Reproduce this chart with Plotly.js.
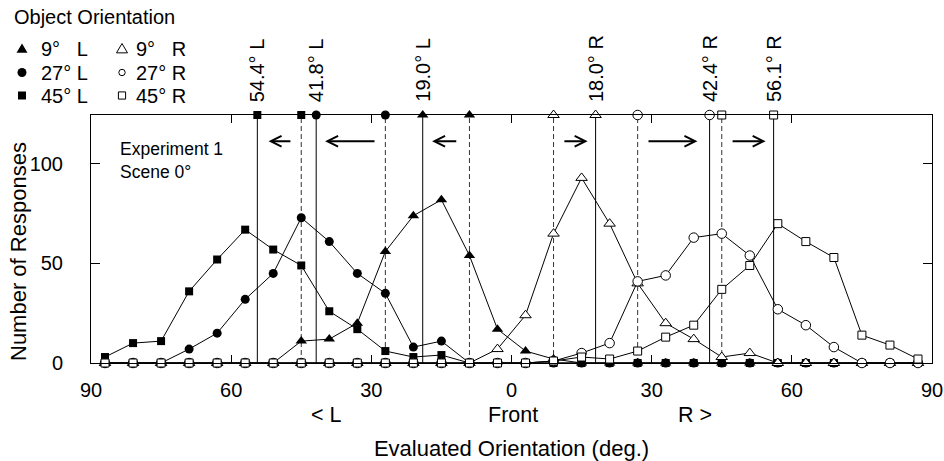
<!DOCTYPE html>
<html>
<head>
<meta charset="utf-8">
<script src="https://cdn.plot.ly/plotly-3.0.1.min.js"></script>
<style>html,body{margin:0;padding:0;background:#fff}#chart{width:944px;height:461px}</style>
</head>
<body>
<div id="chart"></div>
<script>
// ---------- data ----------
const angles = [-87,-81,-75,-69,-63,-57,-51,-45,-39,-33,-27,-21,-15,-9,-3,3,9,15,21,27,33,39,45,51,57,63,69,75,81,87];
const resp9L  = [0,0,0,0,0,0,0,11,12,20,56,74,82,54,17,6,2,0,0,0,0,0,0,0,0,0,0,0,0,0];
const resp27L = [0,0,0,7,15,32,45,73,61,45,35,8,11,0,0,0,0,0,0,0,0,0,0,0,0,0,0,0,0,0];
const resp45L = [3,10,11,36,52,67,57,49,26,17,6,3,4,0,0,0,0,0,0,0,0,0,0,0,0,0,0,0,0,0];
const resp9R  = [0,0,0,0,0,0,0,0,0,0,0,0,0,0,7,24,65,93,70,40,20,12,3,5,0,0,0,0,0,0];
const resp27R = [0,0,0,0,0,0,0,0,0,0,0,0,0,0,0,0,1,5,10,41,44,63,65,54,27,19,8,0,0,0];
const resp45R = [0,0,0,0,0,0,0,0,0,0,0,0,0,0,0,0,1,3,2,6,13,19,37,49,70,61,53,14,9,2];

const seriesNames   = ['9° L','45° L','27° L','9° R','27° R','45° R'];
const actualOrient  = [-9,-45,-27,9,27,45];               // true object orientation (dashed lines)
const meanOrient    = [-19.0,-54.4,-41.8,18.0,42.4,56.1]; // mean evaluated orientation (solid lines)
const meanLabels    = ['19.0° L','54.4° L','41.8° L','18.0° R','42.4° R','56.1° R'];
const arrowFrom     = [-11.5,-47,-29,11,29,47];
const arrowTo       = [-17,-52,-39.9,16.3,39.8,54.4];
const arrowLevel    = 111.4;

const tickVals = [-90,-60,-30,0,30,60,90];
const tickText = ['90','60','30','0','30','60','90'];
const yTickVals = [0,50,100];
const sideLabels = ['&lt; L','Front','R &gt;'];
const sideLabelPos = [-39.5,0.3,39.3];

const legendTitle = 'Object Orientation';
const legendLeft  = ['9°\u00a0\u00a0\u00a0L','27° L','45° L'];
const legendRight = ['9°\u00a0\u00a0\u00a0R','27° R','45° R'];
const noteText = 'Experiment 1<br>Scene 0°';
const xTitle = 'Evaluated Orientation (deg.)';
const yTitle = 'Number of Responses';

// ---------- style / layout ----------
const W = 944, H = 461;
const M = {l:91, r:12, t:115, b:98};
const PW = W - M.l - M.r, PH = H - M.t - M.b;
const px = X => (X - M.l) / PW;          // figure pixel -> paper x
const py = Y => (H - M.b - Y) / PH;      // figure pixel -> paper y
const Y_MAX = 124.6;
const FONT = 'Liberation Sans, Arial, sans-serif';

const values = [resp9L, resp45L, resp27L, resp9R, resp27R, resp45R];
const symbols = ['triangle-up','square','circle','triangle-up','circle','square'];
const filled  = [true,true,true,false,false,false];
const sizes   = [10,8,9,10,9.5,8];

function markerStyle(i){
  return {
    symbol: symbols[i], size: sizes[i],
    color: filled[i] ? '#000' : '#fff',
    line: {color:'#000', width: filled[i] ? 0 : 1}
  };
}

const traces = [];
const shapes = [];
const annotations = [];

// vertical reference lines
actualOrient.forEach(v => shapes.push({type:'line', xref:'x', yref:'paper', x0:v, x1:v, y0:0, y1:1,
  line:{color:'#333', width:1, dash:'5px,3px'}, layer:'below'}));
meanOrient.forEach(v => shapes.push({type:'line', xref:'x', yref:'paper', x0:v, x1:v, y0:0, y1:1,
  line:{color:'#000', width:1}, layer:'below'}));

// response curves
values.forEach((vals,i) => {
  traces.push({x: angles, y: vals, type:'scatter', mode:'lines+markers', name: seriesNames[i],
    line:{color:'#000', width:1}, marker: markerStyle(i), cliponaxis:false, showlegend:false});
});
// markers at the top of the reference lines
values.forEach((vals,i) => {
  traces.push({x: [actualOrient[i], meanOrient[i]], y: [Y_MAX, Y_MAX], type:'scatter', mode:'markers',
    marker: markerStyle(i), cliponaxis:false, showlegend:false, hoverinfo:'skip'});
});

// labels above mean lines
meanOrient.forEach((v,i) => annotations.push({x:v, xref:'x', y:1, yref:'paper', yshift:11,
  text: meanLabels[i], textangle:-90, showarrow:false, xanchor:'center', yanchor:'bottom',
  font:{size:20, family:FONT, color:'#000'}}));

// shift arrows
arrowFrom.forEach((a,i) => annotations.push({x: arrowTo[i], y: arrowLevel, xref:'x', yref:'y',
  ax: a, ay: arrowLevel, axref:'x', ayref:'y', text:'', showarrow:true,
  arrowhead:5, arrowsize:1.05, arrowwidth:2, arrowcolor:'#000'}));

// side labels under the tick labels
sideLabels.forEach((t,i) => annotations.push({x: sideLabelPos[i], xref:'x', y: py(415), yref:'paper',
  text:t, showarrow:false, xanchor:'center', yanchor:'middle', font:{size:21.5, family:FONT, color:'#000'}}));

// y axis title
annotations.push({x: px(18), y: py(252), xref:'paper', yref:'paper', text: yTitle, textangle:-90,
  showarrow:false, xanchor:'center', yanchor:'middle', font:{size:22, family:FONT, color:'#000'}});

// note
annotations.push({x: px(118), y: py(137), xref:'paper', yref:'paper', text: noteText, showarrow:false, align:'left',
  xanchor:'left', yanchor:'top', font:{size:17.5, family:FONT, color:'#000'}});

// legend (drawn by hand)
const legRowY = [49, 72.5, 95.5];
const legColMarkX = [22, 122];
const legColTextX = [39, 134];
annotations.push({x: px(12), y: py(17), xref:'paper', yref:'paper', text: legendTitle, showarrow:false,
  xanchor:'left', yanchor:'middle', font:{size:20, family:FONT, color:'#000'}});
[legendLeft, legendRight].forEach((col,c) => col.forEach((t,r) => annotations.push({
  x: px(legColTextX[c]), y: py(legRowY[r]), xref:'paper', yref:'paper', text:t, showarrow:false,
  xanchor:'left', yanchor:'middle', font:{size:20, family:FONT, color:'#000'}})));

// legend symbols: [shape kind, half-size, filled]
const legSymbols = [
  [['tri',5.5,true], ['circ',4.5,true], ['sq',4,true]],
  [['tri',5.5,false], ['circ',3.2,false], ['sq',3.6,false]]
];
legSymbols.forEach((col,c) => col.forEach((s,r) => {
  const [kind, h, fill] = s;
  const base = {xref:'paper', yref:'paper', xsizemode:'pixel', ysizemode:'pixel',
    xanchor: px(legColMarkX[c]), yanchor: py(legRowY[r]),
    fillcolor: fill ? '#000' : '#fff', line:{color:'#000', width: fill ? 0 : 1}};
  if (kind === 'tri') {
    shapes.push(Object.assign(base, {type:'path',
      path: `M${-h},${-h*0.7} L${h},${-h*0.7} L0,${h*1.0} Z`}));
  } else {
    shapes.push(Object.assign(base, {type: kind === 'circ' ? 'circle' : 'rect', x0:-h, x1:h, y0:-h, y1:h}));
  }
}));

const axisCommon = {showline:true, linecolor:'#000', linewidth:1, mirror:'ticks', ticks:'inside',
  tickcolor:'#000', tickwidth:1, showgrid:false, zeroline:false, tickfont:{size:20, family:FONT, color:'#000'}};

const layout = {
  width: W, height: H, margin: M, paper_bgcolor:'#fff', plot_bgcolor:'#fff',
  font:{family:FONT, color:'#000'}, showlegend:false,
  xaxis: Object.assign({}, axisCommon, {range:[-90,90], tickvals: tickVals, ticktext: tickText, ticklen:8,
    ticklabelstandoff: 9,
    title:{text: xTitle, font:{size:22, family:FONT, color:'#000'}, standoff: 43}}),
  yaxis: Object.assign({}, axisCommon, {range:[0, Y_MAX], tickvals: yTickVals, ticklen:9,
    ticklabelstandoff: 23}),
  shapes, annotations
};

Plotly.newPlot('chart', traces, layout, {displayModeBar:false, staticPlot:true});
</script>
</body>
</html>
